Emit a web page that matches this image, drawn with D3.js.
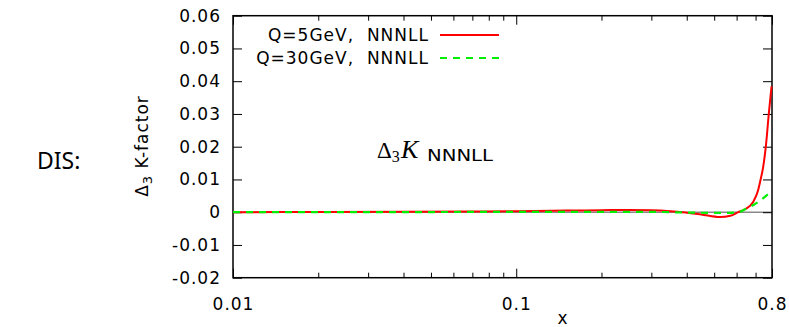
<!DOCTYPE html>
<html>
<head>
<meta charset="utf-8">
<title>DIS - Delta3 K-factor</title>
<script src="https://cdn.jsdelivr.net/npm/d3@7"></script>
<style>
body { margin:0; background:#fff; }
text { font-family:'DejaVu Sans', sans-serif; font-size:17px; letter-spacing:1px; fill:#000; white-space:pre; }
</style>
</head>
<body>
<svg id="svg" width="789" height="327"></svg>
<script>
// data
var xRed   = [0.01, 0.02, 0.04, 0.07, 0.1, 0.15, 0.2, 0.25, 0.3, 0.35, 0.387, 0.45, 0.524, 0.57, 0.608, 0.642, 0.687, 0.715, 0.729, 0.745, 0.761, 0.78, 0.797];
var yRed   = [0, 0.00005, 0.0001, 0.0002, 0.0003, 0.0005, 0.0006, 0.0007, 0.0006, 0.0003, 0, -0.0007, -0.0015, -0.0011, 0, 0.0009, 0.0032, 0.0068, 0.0099, 0.0139, 0.0201, 0.0303, 0.0384];
var xGreen = [0.01, 0.05, 0.1, 0.2, 0.3, 0.4, 0.5, 0.56, 0.608, 0.64, 0.687, 0.72, 0.745, 0.77, 0.8];
var yGreen = [0, 0.00005, 0.0001, 0.0001, 0.0001, -0.0001, -0.0002, -0.0002, 0, 0.0008, 0.0022, 0.0033, 0.0043, 0.0053, 0.0063];
var yTicks = [-0.02, -0.01, 0, 0.01, 0.02, 0.03, 0.04, 0.05, 0.06];
var yTickLabels = ['-0.02', '-0.01', '0', '0.01', '0.02', '0.03', '0.04', '0.05', '0.06'];
var xMajor = [0.01, 0.1, 0.8];
var xMajorLabels = ['0.01', '0.1', '0.8'];
var xMinor = [0.02, 0.03, 0.04, 0.05, 0.06, 0.07, 0.08, 0.09, 0.2, 0.3, 0.4, 0.5, 0.6, 0.7];
var seriesNames = ['Q=5GeV,  NNNLL', 'Q=30GeV,  NNNLL'];

var L = 233, R = 772, T = 15.7, B = 277.7;
var svg = d3.select('#svg');

var x = d3.scaleLog().domain([0.01, 0.8]).range([L, R]);
var y = d3.scaleLinear().domain([-0.02, 0.06]).range([B, T]);

// zero line
svg.append('line')
    .attr('x1', L).attr('x2', R)
    .attr('y1', y(0)).attr('y2', y(0))
    .attr('stroke', '#888').attr('stroke-width', 1.5);

// axes: ticks pointing inward
svg.append('g').attr('transform', 'translate(' + L + ',0)')
    .call(d3.axisLeft(y).tickValues(yTicks).tickSize(-9).tickPadding(12)
        .tickFormat(function(d, i){ return yTickLabels[i]; }));
svg.append('g').attr('transform', 'translate(' + R + ',0)')
    .call(d3.axisRight(y).tickValues(yTicks).tickSize(-9).tickFormat(''));
svg.append('g').attr('transform', 'translate(0,' + B + ')')
    .call(d3.axisBottom(x).tickValues(xMajor).tickSize(-9).tickPadding(20)
        .tickFormat(function(d, i){ return xMajorLabels[i]; }));
svg.append('g').attr('transform', 'translate(0,' + B + ')')
    .call(d3.axisBottom(x).tickValues(xMinor).tickSize(-5).tickFormat(''));
svg.append('g').attr('transform', 'translate(0,' + T + ')')
    .call(d3.axisTop(x).tickValues(xMajor).tickSize(-9).tickFormat(''));
svg.append('g').attr('transform', 'translate(0,' + T + ')')
    .call(d3.axisTop(x).tickValues(xMinor).tickSize(-5).tickFormat(''));

svg.selectAll('.domain').remove();
svg.selectAll('.tick line').attr('stroke', '#000').attr('stroke-width', 1);
svg.selectAll('.tick text').style('font-family', "'DejaVu Sans', sans-serif").style('font-size', '17px');

// frame
svg.append('rect')
    .attr('x', L).attr('y', T).attr('width', R - L).attr('height', B - T)
    .attr('fill', 'none').attr('stroke', '#000').attr('stroke-width', 1.5);

// curves
var line = d3.line()
    .x(function(d){ return x(d[0]); })
    .y(function(d){ return y(d[1]); })
    .curve(d3.curveMonotoneX);

var red = xRed.map(function(v, i){ return [v, yRed[i]]; });
var green = xGreen.map(function(v, i){ return [v, yGreen[i]]; });

svg.append('path').datum(red).attr('d', line)
    .attr('fill', 'none').attr('stroke', '#ff0000').attr('stroke-width', 2);
svg.append('path').datum(green).attr('d', line)
    .attr('fill', 'none').attr('stroke', '#00ee00').attr('stroke-width', 2.2)
    .attr('stroke-dasharray', '7,6');

// legend
var legY = [35, 58];
var legColors = ['#ff0000', '#00ee00'];
var legDash = [null, '7,6'];
for (var i = 0; i < seriesNames.length; i++) {
    svg.append('text')
        .attr('x', 429).attr('y', legY[i]).attr('dy', '0.36em')
        .attr('text-anchor', 'end')
        .text(seriesNames[i]);
    svg.append('line')
        .attr('x1', 440).attr('x2', 499)
        .attr('y1', legY[i]).attr('y2', legY[i])
        .attr('stroke', legColors[i]).attr('stroke-width', 2)
        .attr('stroke-dasharray', legDash[i]);
}

// in-plot label
var mt = svg.append('text').attr('x', 377).attr('y', 157.5)
    .style('font-family', "'Liberation Serif', serif").style('font-size', '23px')
    .style('letter-spacing', '0px');
mt.append('tspan').text('\u0394');
mt.append('tspan').attr('dy', 4).style('font-size', '16px').text('3');
mt.append('tspan').attr('x', 401).attr('dy', -4).style('font-style', 'italic').style('font-size', '26px').text('K');
mt.append('tspan').attr('x', 427).attr('dy', 3).style('font-family', "'DejaVu Sans', sans-serif")
    .style('font-size', '15px').attr('textLength', 66).attr('lengthAdjust', 'spacingAndGlyphs').text('NNNLL');

// axis titles
var yt = svg.append('text')
    .attr('transform', 'translate(148,146) rotate(-90)')
    .attr('text-anchor', 'middle');
yt.append('tspan').text('\u0394');
yt.append('tspan').attr('dy', 4).style('font-size', '13px').text('3');
yt.append('tspan').attr('dy', -4).text(' K-factor');

svg.append('text')
    .attr('x', 563).attr('y', 324)
    .attr('text-anchor', 'middle')
    .text('x');

svg.append('text')
    .attr('x', 37).attr('y', 169)
    .style('font-family', "'Noto Sans', sans-serif").style('font-size', '23px')
    .style('letter-spacing', '0px')
    .text('DIS:');
</script>
</body>
</html>
